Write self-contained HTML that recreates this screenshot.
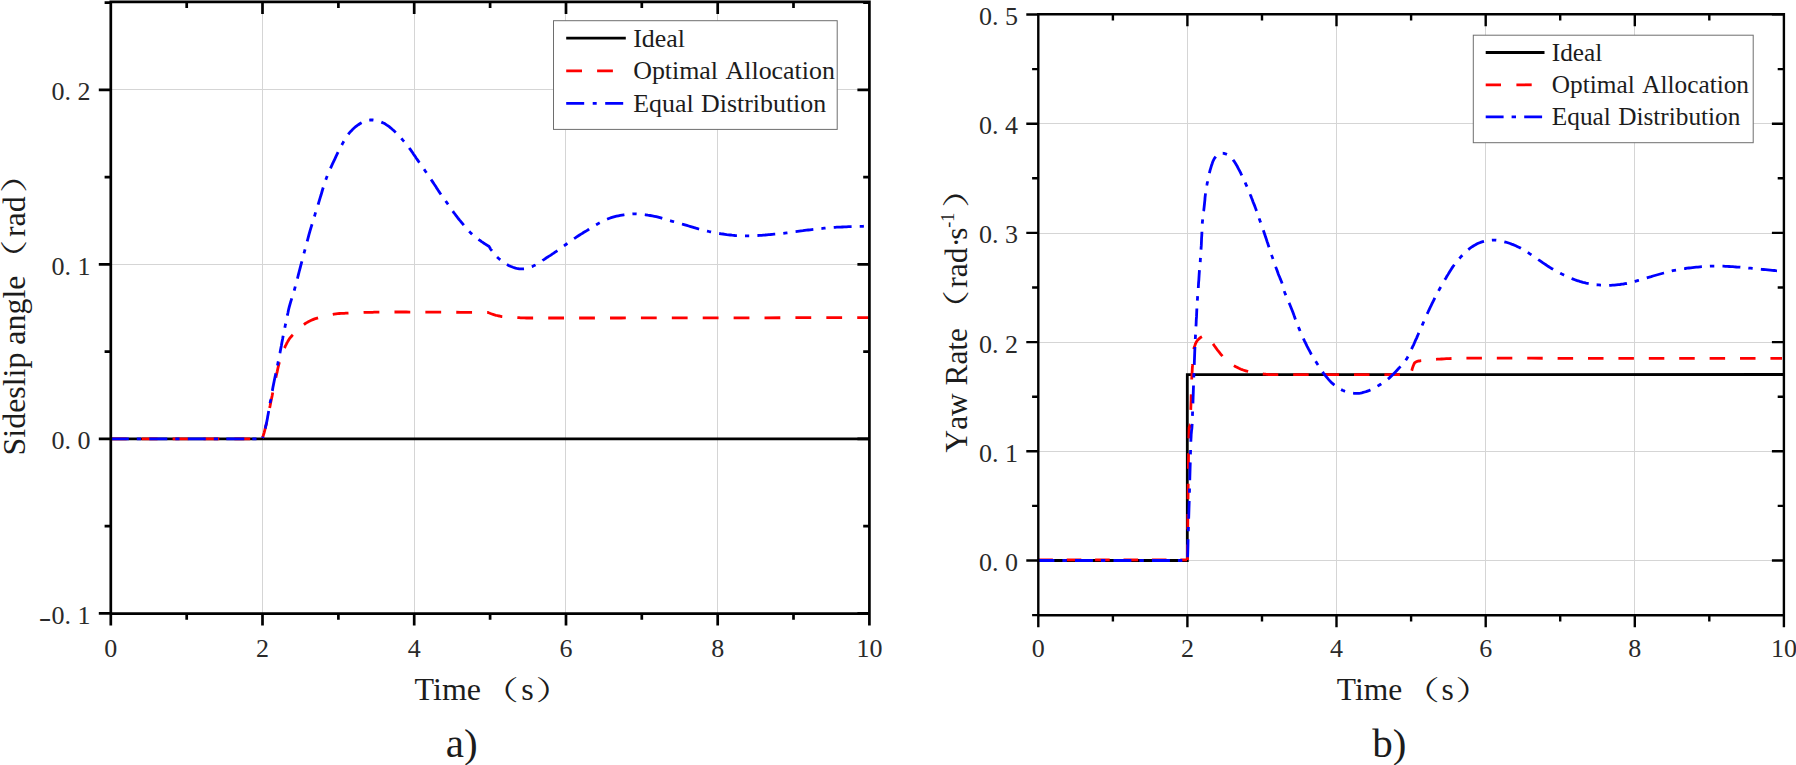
<!DOCTYPE html>
<html lang="en"><head><meta charset="utf-8"><title>Sideslip angle and yaw rate</title>
<style>html,body{margin:0;padding:0;background:#fff}body{width:1796px;height:765px;overflow:hidden}svg{display:block}text{font-family:"Liberation Serif", "Noto Serif CJK SC", serif;fill:#1c1c1c}.tk{font-size:26px;fill:#2a2a2a}.lg{font-size:25.9px}.ax{font-size:31.5px}.cap{font-size:41px}.a{stroke:#000;stroke-width:2.5;fill:none}.g{stroke:#d5d5d5;stroke-width:1;fill:none}.cb{stroke:#0000ff;stroke-width:2.8;fill:none;stroke-dasharray:18 8.5 4 8.5}.cr{stroke:#ff0000;stroke-width:2.8;fill:none;stroke-dasharray:15.8 15.1}.ck{stroke:#000;fill:none}</style></head><body>
<svg width="1796" height="765" viewBox="0 0 1796 765">
<rect width="1796" height="765" fill="#fff"/>
<path class="g" d="M262.5 1.9V613.6"/>
<path class="g" d="M414.5 1.9V613.6"/>
<path class="g" d="M565.5 1.9V613.6"/>
<path class="g" d="M717.5 1.9V613.6"/>
<path class="g" d="M110.8 89.5H869.4"/>
<path class="g" d="M110.8 264.5H869.4"/>
<path class="ck" stroke-width="2.9" d="M110.8 438.9H869.4"/>
<path class="cr" d="M110.8 438.9 L262.0 438.9"/>
<path class="cr" d="M262.6 438.0 L262.9 437.0 L263.2 435.8 L263.6 434.4 L264.1 432.8 L264.6 430.9 L265.1 428.9 L265.6 426.7 L266.2 424.4 L266.8 421.8 L267.4 418.9 L268.0 415.8 L268.7 412.5 L269.4 409.2 L270.1 405.8 L270.7 402.4 L271.4 399.2 L272.1 396.0 L272.7 392.7 L273.4 389.4 L274.1 386.1 L274.7 382.9 L275.4 379.8 L276.0 376.8 L276.6 374.1 L277.2 371.6 L277.7 369.2 L278.2 367.0 L278.7 365.0 L279.2 363.0 L279.7 361.1 L280.2 359.2 L280.8 357.4 L281.4 355.6 L282.0 353.9 L282.7 352.2 L283.3 350.6 L284.0 349.1 L284.7 347.6 L285.3 346.2 L286.0 344.9 L286.6 343.7 L287.1 342.6 L287.7 341.6 L288.2 340.7 L288.8 339.7 L289.5 338.7 L290.3 337.7 L291.3 336.5 L292.5 335.1 L293.9 333.6 L295.5 332.0 L297.1 330.4 L298.8 328.8 L300.5 327.3 L302.2 325.8 L303.8 324.6 L305.3 323.5 L306.8 322.6 L308.3 321.7 L309.8 321.0 L311.3 320.3 L312.9 319.6 L314.6 318.9 L316.4 318.3 L318.4 317.7 L320.6 317.0 L322.8 316.4 L325.2 315.9 L327.5 315.3 L329.8 314.9 L332.0 314.5 L334.1 314.1 L336.0 313.8 L337.7 313.6 L339.4 313.5 L341.0 313.4 L342.5 313.3 L344.2 313.3 L345.9 313.2 L347.7 313.1 L349.7 313.0 L351.8 312.9 L353.9 312.8 L356.1 312.7 L358.3 312.6 L360.5 312.5 L362.5 312.5 L364.5 312.4 L366.3 312.4 L367.9 312.3 L369.4 312.3 L370.9 312.3 L372.5 312.3 L374.1 312.2 L375.9 312.2 L378.0 312.2 L380.3 312.2 L382.7 312.1 L385.3 312.1 L388.0 312.1 L390.8 312.0 L393.7 312.0 L396.8 312.0 L400.0 312.0 L403.2 312.0 L406.3 312.0 L409.5 312.1 L412.8 312.1 L416.4 312.1 L420.4 312.1 L424.9 312.2 L430.0 312.2 L436.3 312.2 L443.8 312.2 L452.1 312.2 L460.6 312.3 L468.9 312.3 L476.5 312.3 L482.9 312.3 L487.5 312.3 L487.5 312.3 L487.8 312.4 L488.2 312.6 L488.7 312.8 L489.3 313.0 L489.9 313.3 L490.5 313.5 L491.2 313.8 L491.8 314.0 L492.4 314.2 L493.1 314.4 L493.8 314.7 L494.5 314.9 L495.3 315.1 L496.0 315.3 L496.8 315.5 L497.6 315.7 L498.4 315.9 L499.1 316.0 L499.9 316.2 L500.7 316.4 L501.5 316.5 L502.5 316.6 L503.5 316.8 L504.8 316.9 L506.3 317.0 L507.9 317.1 L509.7 317.3 L511.6 317.4 L513.5 317.5 L515.4 317.5 L517.4 317.6 L519.2 317.7 L520.6 317.8 L521.6 317.8 L522.3 317.9 L523.1 317.9 L524.3 317.9 L526.3 318.0 L529.2 318.0 L533.5 318.0 L539.1 318.0 L545.7 318.0 L553.1 318.0 L561.4 318.0 L570.3 318.0 L579.8 318.0 L589.7 318.0 L600.0 318.0 L610.4 318.0 L621.1 318.0 L632.1 317.9 L643.7 317.9 L656.0 317.9 L669.4 317.8 L684.0 317.8 L700.0 317.8 L718.9 317.8 L741.2 317.8 L765.4 317.8 L790.2 317.7 L814.3 317.7 L836.2 317.7 L854.6 317.7 L868.0 317.7"/>
<path class="cb" style="stroke-dasharray:18 8 4.2 8.3" d="M110.8 438.9 L262.0 438.9"/>
<path class="cb" style="stroke-dasharray:17.9 8.1 4.2 8.2;stroke-dashoffset:28.7" d="M262.6 438.0 L262.9 437.0 L263.3 435.6 L263.7 434.0 L264.2 432.3 L264.7 430.3 L265.3 428.3 L265.7 426.3 L266.2 424.4 L266.6 422.5 L267.0 420.6 L267.4 418.6 L267.7 416.6 L268.1 414.5 L268.5 412.3 L268.9 410.0 L269.3 407.6 L269.8 405.0 L270.2 402.3 L270.8 399.5 L271.3 396.6 L271.8 393.7 L272.4 390.6 L272.9 387.6 L273.5 384.6 L274.1 381.6 L274.7 378.5 L275.4 375.4 L276.0 372.3 L276.7 369.2 L277.4 366.0 L278.0 362.8 L278.7 359.5 L279.3 356.2 L280.0 352.8 L280.6 349.4 L281.3 345.9 L281.9 342.4 L282.6 339.0 L283.2 335.6 L283.9 332.3 L284.6 329.0 L285.2 325.7 L285.9 322.5 L286.5 319.2 L287.2 316.1 L287.9 313.0 L288.5 310.0 L289.2 307.2 L289.9 304.6 L290.6 302.2 L291.3 299.9 L291.9 297.7 L292.6 295.5 L293.4 293.3 L294.1 290.9 L294.8 288.4 L295.5 285.7 L296.2 283.1 L297.0 280.3 L297.7 277.5 L298.4 274.6 L299.2 271.5 L300.1 268.2 L301.0 264.7 L302.0 260.9 L303.1 256.8 L304.2 252.5 L305.4 248.1 L306.6 243.6 L307.8 239.2 L308.9 234.8 L310.1 230.7 L311.3 226.7 L312.5 222.7 L313.7 218.8 L314.9 214.9 L316.0 211.1 L317.2 207.5 L318.3 204.0 L319.3 200.7 L320.2 197.6 L321.1 194.8 L321.9 192.0 L322.6 189.5 L323.4 187.0 L324.1 184.5 L324.9 182.1 L325.8 179.7 L326.7 177.3 L327.6 174.9 L328.6 172.6 L329.6 170.4 L330.6 168.1 L331.6 165.9 L332.6 163.7 L333.7 161.4 L334.8 159.1 L335.9 156.7 L337.1 154.2 L338.2 151.8 L339.4 149.5 L340.6 147.2 L341.7 145.1 L342.8 143.1 L343.8 141.3 L344.8 139.6 L345.7 138.1 L346.7 136.6 L347.6 135.3 L348.6 133.9 L349.6 132.7 L350.7 131.4 L351.9 130.2 L353.1 128.9 L354.4 127.8 L355.7 126.7 L357.1 125.6 L358.4 124.7 L359.8 123.8 L361.1 123.0 L362.4 122.3 L363.7 121.7 L365.0 121.2 L366.3 120.7 L367.6 120.4 L368.9 120.1 L370.2 120.0 L371.6 119.9 L373.0 120.0 L374.5 120.2 L376.0 120.5 L377.5 120.9 L379.0 121.3 L380.5 121.8 L381.9 122.4 L383.3 123.0 L384.6 123.6 L385.8 124.3 L386.9 125.1 L388.1 125.9 L389.2 126.7 L390.3 127.6 L391.4 128.5 L392.5 129.5 L393.7 130.5 L394.8 131.6 L396.0 132.7 L397.1 133.9 L398.3 135.1 L399.4 136.3 L400.5 137.5 L401.6 138.7 L402.6 139.9 L403.7 141.1 L404.7 142.2 L405.6 143.4 L406.6 144.6 L407.6 145.9 L408.5 147.1 L409.5 148.4 L410.5 149.7 L411.5 151.1 L412.5 152.5 L413.4 154.0 L414.4 155.4 L415.4 156.8 L416.3 158.2 L417.3 159.6 L418.2 160.9 L419.1 162.2 L420.0 163.5 L420.9 164.7 L421.8 166.0 L422.7 167.3 L423.6 168.6 L424.6 170.0 L425.6 171.5 L426.7 173.0 L427.7 174.6 L428.8 176.2 L429.9 177.8 L431.0 179.4 L432.0 180.9 L433.0 182.4 L433.9 183.8 L434.9 185.2 L435.8 186.6 L436.6 187.9 L437.5 189.3 L438.3 190.6 L439.2 191.9 L440.1 193.2 L441.0 194.5 L441.9 195.7 L442.7 197.0 L443.6 198.2 L444.5 199.4 L445.4 200.7 L446.3 201.9 L447.3 203.3 L448.3 204.7 L449.4 206.3 L450.5 207.8 L451.6 209.4 L452.7 211.0 L453.8 212.6 L454.9 214.0 L455.9 215.4 L456.9 216.7 L457.8 217.9 L458.7 219.0 L459.6 220.1 L460.5 221.1 L461.3 222.2 L462.2 223.2 L463.1 224.3 L464.0 225.4 L464.8 226.4 L465.7 227.5 L466.5 228.5 L467.4 229.5 L468.3 230.6 L469.3 231.6 L470.3 232.6 L471.4 233.6 L472.6 234.7 L473.9 235.8 L475.2 236.8 L476.5 237.8 L477.8 238.8 L479.1 239.8 L480.3 240.7 L481.5 241.6 L482.8 242.4 L484.0 243.3 L485.3 244.1 L486.4 244.8 L487.5 245.4 L488.3 246.0 L489.0 246.4 L489.0 246.4 L489.2 246.7 L489.4 247.1 L489.7 247.5 L490.0 248.0 L490.3 248.6 L490.7 249.3 L491.2 250.0 L491.8 250.7 L492.5 251.5 L493.2 252.5 L494.1 253.5 L494.9 254.6 L495.9 255.7 L496.9 256.8 L497.9 257.8 L499.0 258.8 L500.1 259.7 L501.3 260.7 L502.6 261.6 L503.9 262.6 L505.2 263.4 L506.5 264.3 L507.8 265.0 L509.1 265.7 L510.4 266.3 L511.7 266.8 L513.0 267.3 L514.2 267.7 L515.5 268.1 L516.8 268.4 L518.0 268.6 L519.2 268.8 L520.3 268.9 L521.5 268.9 L522.5 268.9 L523.6 268.8 L524.6 268.7 L525.7 268.5 L526.7 268.3 L527.8 268.0 L528.9 267.7 L529.9 267.4 L531.0 267.0 L532.1 266.6 L533.2 266.1 L534.2 265.6 L535.3 265.1 L536.4 264.5 L537.5 263.9 L538.5 263.3 L539.6 262.6 L540.6 261.8 L541.7 261.1 L542.7 260.3 L543.9 259.6 L545.0 258.8 L546.2 258.0 L547.4 257.2 L548.7 256.4 L550.0 255.6 L551.2 254.8 L552.5 253.9 L553.8 253.1 L555.1 252.2 L556.4 251.3 L557.6 250.5 L558.8 249.6 L560.1 248.7 L561.3 247.8 L562.6 246.9 L563.9 245.9 L565.2 245.0 L566.6 244.0 L568.0 243.0 L569.4 242.0 L570.9 240.9 L572.3 239.9 L573.8 238.9 L575.3 237.9 L576.7 236.9 L578.1 236.0 L579.6 235.0 L581.0 234.1 L582.5 233.2 L583.9 232.3 L585.3 231.5 L586.8 230.6 L588.2 229.7 L589.6 228.8 L591.1 227.9 L592.5 227.0 L594.0 226.1 L595.4 225.2 L596.8 224.4 L598.3 223.6 L599.7 222.8 L601.1 222.1 L602.5 221.4 L603.9 220.7 L605.3 220.0 L606.7 219.4 L608.1 218.8 L609.6 218.2 L611.2 217.7 L612.9 217.2 L614.7 216.7 L616.5 216.2 L618.4 215.8 L620.3 215.4 L622.1 215.1 L623.9 214.8 L625.6 214.5 L627.1 214.3 L628.5 214.1 L629.9 214.0 L631.2 213.9 L632.5 213.8 L633.9 213.8 L635.4 213.8 L637.1 213.9 L639.0 214.0 L641.1 214.3 L643.3 214.5 L645.6 214.8 L647.9 215.2 L650.1 215.5 L652.3 215.9 L654.4 216.3 L656.3 216.7 L658.2 217.2 L660.0 217.7 L661.8 218.2 L663.5 218.7 L665.3 219.3 L667.0 219.8 L668.8 220.3 L670.6 220.8 L672.4 221.3 L674.2 221.8 L675.9 222.3 L677.7 222.8 L679.5 223.3 L681.3 223.8 L683.1 224.3 L684.9 224.8 L686.8 225.4 L688.7 226.0 L690.7 226.6 L692.5 227.1 L694.3 227.7 L696.0 228.2 L697.5 228.6 L698.8 229.0 L700.0 229.3 L701.1 229.6 L702.0 229.9 L703.0 230.1 L704.0 230.4 L705.0 230.6 L706.2 230.9 L707.5 231.2 L708.8 231.5 L710.2 231.8 L711.6 232.1 L713.1 232.4 L714.6 232.6 L716.1 232.9 L717.7 233.2 L719.4 233.5 L721.1 233.8 L723.0 234.0 L724.9 234.3 L726.7 234.6 L728.6 234.8 L730.3 235.0 L732.0 235.2 L733.6 235.3 L735.0 235.5 L736.4 235.6 L737.7 235.6 L739.1 235.7 L740.5 235.7 L741.9 235.8 L743.5 235.8 L745.2 235.8 L746.9 235.8 L748.7 235.8 L750.5 235.8 L752.4 235.7 L754.2 235.7 L756.1 235.6 L757.9 235.5 L759.7 235.4 L761.5 235.3 L763.3 235.1 L765.1 235.0 L766.9 234.8 L768.7 234.6 L770.5 234.5 L772.3 234.3 L774.1 234.1 L775.9 234.0 L777.7 233.8 L779.5 233.7 L781.3 233.5 L783.1 233.3 L784.9 233.1 L786.7 232.9 L788.5 232.7 L790.3 232.4 L792.1 232.2 L793.9 231.9 L795.7 231.7 L797.5 231.4 L799.3 231.1 L801.1 230.9 L802.9 230.7 L804.7 230.4 L806.5 230.2 L808.2 230.0 L810.0 229.8 L811.8 229.6 L813.6 229.4 L815.4 229.2 L817.2 229.0 L819.0 228.8 L820.8 228.6 L822.6 228.4 L824.4 228.2 L826.2 228.0 L828.0 227.9 L829.8 227.7 L831.6 227.6 L833.3 227.4 L835.1 227.3 L836.8 227.2 L838.6 227.2 L840.4 227.1 L842.3 227.0 L844.2 226.9 L846.3 226.8 L848.6 226.7 L850.9 226.6 L853.3 226.6 L855.7 226.5 L857.9 226.4 L859.8 226.4 L861.5 226.3 L862.9 226.3 L864.0 226.2 L865.0 226.2 L865.8 226.2 L866.5 226.1 L867.1 226.1 L867.6 226.1 L868.0 226.1"/>
<path class="a" style="stroke-width:2.7" d="M110.8 1.9H869.4V613.6H110.8ZM110.8 1.9v12.0M110.8 613.6v12.0M186.7 1.9v6.2M186.7 613.6v6.2M262.5 1.9v12.0M262.5 613.6v12.0M338.4 1.9v6.2M338.4 613.6v6.2M414.2 1.9v12.0M414.2 613.6v12.0M490.1 1.9v6.2M490.1 613.6v6.2M566.0 1.9v12.0M566.0 613.6v12.0M641.8 1.9v6.2M641.8 613.6v6.2M717.7 1.9v12.0M717.7 613.6v12.0M793.5 1.9v6.2M793.5 613.6v6.2M869.4 1.9v12.0M869.4 613.6v12.0M110.8 89.9h-12.0M869.4 89.9h-12.0M110.8 264.4h-12.0M869.4 264.4h-12.0M110.8 438.9h-12.0M869.4 438.9h-12.0M110.8 613.4h-12.0M869.4 613.4h-12.0M110.8 2.6h-6.2M869.4 2.6h-6.2M110.8 177.1h-6.2M869.4 177.1h-6.2M110.8 351.6h-6.2M869.4 351.6h-6.2M110.8 526.1h-6.2M869.4 526.1h-6.2"/>
<text class="tk" x="90.4" y="100.1" text-anchor="end">0.<tspan dx="6.5">2</tspan></text>
<text class="tk" x="90.4" y="274.6" text-anchor="end">0.<tspan dx="6.5">1</tspan></text>
<text class="tk" x="90.4" y="449.1" text-anchor="end">0.<tspan dx="6.5">0</tspan></text>
<text class="tk" x="90.4" y="623.6" text-anchor="end"><tspan dy="2" textLength="12.6" lengthAdjust="spacingAndGlyphs">-</tspan><tspan dy="-2">0.</tspan><tspan dx="6.5">1</tspan></text>
<text class="tk" x="110.8" y="656.6" text-anchor="middle">0</text>
<text class="tk" x="262.5" y="656.6" text-anchor="middle">2</text>
<text class="tk" x="414.2" y="656.6" text-anchor="middle">4</text>
<text class="tk" x="566.0" y="656.6" text-anchor="middle">6</text>
<text class="tk" x="717.7" y="656.6" text-anchor="middle">8</text>
<text class="tk" x="869.4" y="656.6" text-anchor="middle">10</text>
<rect x="553.5" y="20.7" width="283.7" height="108.7" fill="#fff" stroke="#6e6e6e" stroke-width="1"/>
<path class="ck" stroke-width="2.6" d="M566.2 38.1H625.8"/>
<path class="cr" d="M566.2 70.9H625.8"/>
<path class="cb" d="M566.2 103.4H625.8"/>
<text class="lg" x="633.2" y="46.8">Ideal</text>
<text class="lg" x="633.2" y="79" style="word-spacing:2.5px">Optimal Allocation</text>
<text class="lg" x="633.2" y="111.5" style="word-spacing:1px">Equal Distribution</text>
<text class="ax" x="414.6" y="699.6" style="font-size:32px">Time <tspan x="480.9" y="700.1" style="font-size:27.0px" textLength="37.8" lengthAdjust="spacingAndGlyphs">（</tspan><tspan x="521.3" y="699.6">s</tspan><tspan x="535.5" y="700.1" style="font-size:27.0px" textLength="37.8" lengthAdjust="spacingAndGlyphs">）</tspan></text>
<text class="cap" x="445.8" y="757">a)</text>
<g transform="translate(24.8 455.4) rotate(-90)"><text class="ax" x="0" y="0" style="font-size:31.9px">Sideslip angle <tspan x="177.9" y="-1.0" style="font-size:27.0px" textLength="37.8" lengthAdjust="spacingAndGlyphs">（</tspan><tspan x="218.3" y="0" style="font-size:32px">rad</tspan><tspan x="262.5" y="-1.0" style="font-size:27.0px" textLength="37.8" lengthAdjust="spacingAndGlyphs">）</tspan></text></g>
<path class="g" d="M1187.5 14.2V615.3"/>
<path class="g" d="M1336.5 14.2V615.3"/>
<path class="g" d="M1485.5 14.2V615.3"/>
<path class="g" d="M1634.5 14.2V615.3"/>
<path class="g" d="M1038.3 123.5H1783.9"/>
<path class="g" d="M1038.3 233.5H1783.9"/>
<path class="g" d="M1038.3 342.5H1783.9"/>
<path class="g" d="M1038.3 451.5H1783.9"/>
<path class="g" d="M1038.3 560.5H1783.9"/>
<path class="ck" stroke-width="2.8" stroke-linejoin="miter" d="M1038.3 560.5 L1187.3 560.5 L1187.3 374.7 L1783.9 374.5"/>
<path class="cr" style="stroke-dasharray:14.6 13.8" d="M1038.3 559.9 L1187.0 559.9"/>
<path class="cr" style="stroke-dasharray:15.5 14.9;stroke-dashoffset:0" d="M1187.4 560.0 L1187.5 550.0 L1187.7 535.9 L1187.8 519.1 L1188.0 500.8 L1188.2 482.5 L1188.4 465.3 L1188.6 450.7 L1188.8 440.0 L1189.0 433.3 L1189.1 429.3 L1189.2 427.4 L1189.4 427.0 L1189.5 427.4 L1189.6 427.8 L1189.8 427.7 L1189.9 426.4 L1190.0 424.1 L1190.2 421.7 L1190.3 419.1 L1190.4 416.4 L1190.6 413.7 L1190.7 410.9 L1190.8 408.2 L1190.9 405.5 L1191.0 402.9 L1191.1 400.3 L1191.1 397.7 L1191.2 395.1 L1191.3 392.4 L1191.3 389.8 L1191.4 387.2 L1191.5 384.6 L1191.6 381.9 L1191.7 379.2 L1191.9 376.4 L1192.0 373.6 L1192.2 370.9 L1192.3 368.3 L1192.5 365.9 L1192.6 363.7 L1192.7 361.7 L1192.8 359.8 L1192.9 358.1 L1193.0 356.5 L1193.0 355.0 L1193.1 353.6 L1193.3 352.3 L1193.4 351.1 L1193.6 350.0 L1193.8 349.1 L1194.0 348.2 L1194.2 347.5 L1194.4 346.8 L1194.6 346.2 L1194.9 345.5 L1195.1 344.9 L1195.3 344.3 L1195.5 343.7 L1195.8 343.2 L1196.0 342.6 L1196.2 342.2 L1196.5 341.7 L1196.8 341.2 L1197.2 340.7 L1197.6 340.2 L1198.1 339.7 L1198.6 339.2 L1199.2 338.7 L1199.8 338.2 L1200.3 337.7 L1200.9 337.3 L1201.4 337.0 L1201.9 336.7 L1202.3 336.5 L1202.8 336.3 L1203.2 336.2 L1203.7 336.1 L1204.1 336.0 L1204.6 336.0 L1205.0 336.0 L1205.4 336.0 L1205.9 336.1 L1206.3 336.2 L1206.7 336.3 L1207.1 336.5 L1207.6 336.8 L1208.0 337.2 L1208.5 337.6 L1209.0 338.1 L1209.5 338.8 L1210.0 339.5 L1210.5 340.3 L1211.1 341.1 L1211.6 342.0 L1212.3 342.9 L1212.9 343.8 L1213.6 344.7 L1214.3 345.7 L1215.1 346.8 L1215.9 347.9 L1216.7 349.0 L1217.5 350.1 L1218.4 351.1 L1219.2 352.2 L1220.1 353.3 L1220.9 354.3 L1221.8 355.4 L1222.7 356.5 L1223.6 357.6 L1224.6 358.6 L1225.5 359.6 L1226.5 360.5 L1227.5 361.3 L1228.5 362.2 L1229.6 362.9 L1230.6 363.6 L1231.7 364.3 L1232.8 365.0 L1233.8 365.6 L1234.9 366.2 L1235.9 366.8 L1236.9 367.3 L1237.9 367.8 L1238.9 368.3 L1239.9 368.7 L1241.0 369.2 L1242.1 369.6 L1243.2 370.0 L1244.4 370.4 L1245.7 370.8 L1247.0 371.2 L1248.3 371.5 L1249.7 371.8 L1251.0 372.1 L1252.4 372.4 L1253.7 372.7 L1255.0 372.9 L1256.3 373.2 L1257.6 373.4 L1258.9 373.5 L1260.2 373.7 L1261.5 373.8 L1262.8 374.0 L1264.1 374.1 L1265.3 374.2 L1266.4 374.3 L1267.4 374.4 L1268.4 374.5 L1269.6 374.6 L1270.9 374.6 L1272.6 374.7 L1274.6 374.7 L1276.5 374.7 L1277.9 374.7 L1279.3 374.7 L1281.0 374.7 L1283.6 374.7 L1287.3 374.7 L1292.6 374.7 L1300.0 374.7 L1310.5 374.7 L1324.3 374.7 L1340.1 374.7 L1356.9 374.7 L1373.5 374.7 L1388.8 374.7 L1401.6 374.7 L1410.7 374.7 L1410.7 374.7 L1410.9 373.9 L1411.2 372.9 L1411.5 371.6 L1411.9 370.2 L1412.3 368.7 L1412.7 367.4 L1413.1 366.2 L1413.5 365.2 L1413.8 364.5 L1414.1 363.9 L1414.3 363.4 L1414.6 362.9 L1414.9 362.6 L1415.3 362.3 L1415.8 362.0 L1416.4 361.7 L1417.2 361.4 L1418.0 361.2 L1419.0 361.0 L1420.0 360.9 L1421.1 360.7 L1422.3 360.6 L1423.6 360.5 L1425.0 360.3 L1426.5 360.1 L1428.1 360.0 L1429.7 359.8 L1431.5 359.7 L1433.3 359.5 L1435.3 359.4 L1437.3 359.2 L1439.4 359.1 L1441.6 359.0 L1444.0 358.9 L1446.4 358.7 L1449.0 358.6 L1451.6 358.5 L1454.2 358.4 L1456.9 358.4 L1459.6 358.3 L1461.7 358.3 L1462.9 358.2 L1463.9 358.2 L1465.0 358.2 L1466.9 358.2 L1470.1 358.2 L1475.2 358.2 L1482.6 358.2 L1492.3 358.2 L1503.8 358.2 L1516.9 358.2 L1531.4 358.2 L1547.1 358.3 L1563.9 358.3 L1581.6 358.3 L1600.0 358.3 L1620.9 358.3 L1645.2 358.3 L1671.5 358.3 L1698.3 358.3 L1724.2 358.3 L1747.8 358.3 L1767.5 358.3 L1782.0 358.3"/>
<path class="cb" style="stroke-dasharray:17.9 8 4.4 8.2;stroke-dashoffset:1.8" d="M1038.3 560.5 L1187.0 560.5 L1187.5 560.0 L1187.7 554.5 L1187.9 547.0 L1188.1 538.0 L1188.4 528.1 L1188.7 517.9 L1189.0 507.7 L1189.3 498.3 L1189.5 490.0 L1189.7 482.5 L1189.9 475.2 L1190.1 468.2 L1190.3 461.5 L1190.4 455.2 L1190.6 449.5 L1190.7 444.4 L1190.9 440.0 L1191.1 436.6 L1191.2 434.1 L1191.4 432.3 L1191.5 431.0 L1191.6 430.0 L1191.8 429.0 L1191.9 427.9 L1192.0 426.4 L1192.1 424.7 L1192.2 423.0 L1192.3 421.4 L1192.3 419.7 L1192.4 417.9 L1192.4 416.1 L1192.5 414.0 L1192.6 411.8 L1192.7 409.3 L1192.8 406.7 L1192.9 403.9 L1193.0 401.0 L1193.1 397.9 L1193.2 394.9 L1193.3 391.8 L1193.4 388.8 L1193.5 385.7 L1193.6 382.6 L1193.7 379.4 L1193.8 376.1 L1194.0 372.9 L1194.1 369.7 L1194.2 366.7 L1194.3 363.7 L1194.4 360.9 L1194.5 358.2 L1194.6 355.6 L1194.7 353.0 L1194.8 350.5 L1194.9 347.9 L1195.0 345.4 L1195.1 342.8 L1195.2 340.2 L1195.4 337.5 L1195.5 334.8 L1195.6 332.2 L1195.8 329.5 L1195.9 326.9 L1196.1 324.3 L1196.2 321.8 L1196.3 319.3 L1196.5 316.9 L1196.6 314.5 L1196.7 312.2 L1196.8 309.8 L1196.9 307.5 L1197.1 305.2 L1197.2 303.0 L1197.3 300.8 L1197.5 298.5 L1197.6 296.3 L1197.8 294.2 L1198.0 292.1 L1198.1 290.0 L1198.3 288.0 L1198.4 286.0 L1198.5 284.1 L1198.6 282.3 L1198.8 280.5 L1198.9 278.8 L1199.0 277.1 L1199.1 275.5 L1199.2 273.9 L1199.3 272.3 L1199.4 270.8 L1199.5 269.4 L1199.7 268.1 L1199.8 266.8 L1199.9 265.5 L1200.0 264.1 L1200.2 262.5 L1200.3 260.8 L1200.4 258.9 L1200.6 256.9 L1200.7 254.7 L1200.9 252.5 L1201.0 250.2 L1201.1 247.8 L1201.3 245.4 L1201.4 243.0 L1201.5 240.5 L1201.6 237.8 L1201.8 235.1 L1201.9 232.4 L1202.0 229.6 L1202.1 227.0 L1202.2 224.4 L1202.4 222.1 L1202.6 220.0 L1202.8 218.0 L1203.0 216.1 L1203.2 214.4 L1203.4 212.6 L1203.7 210.9 L1203.9 209.2 L1204.1 207.4 L1204.3 205.5 L1204.5 203.6 L1204.7 201.7 L1204.9 199.8 L1205.0 197.9 L1205.2 196.1 L1205.4 194.4 L1205.6 192.8 L1205.8 191.4 L1206.0 190.1 L1206.2 189.0 L1206.3 187.9 L1206.5 186.8 L1206.7 185.7 L1207.0 184.5 L1207.2 183.3 L1207.5 182.0 L1207.7 180.6 L1208.0 179.2 L1208.3 177.7 L1208.6 176.3 L1208.9 174.8 L1209.3 173.3 L1209.7 171.8 L1210.1 170.2 L1210.6 168.6 L1211.1 166.9 L1211.6 165.2 L1212.2 163.5 L1212.7 161.9 L1213.3 160.5 L1213.9 159.3 L1214.5 158.3 L1215.2 157.4 L1215.8 156.6 L1216.5 156.0 L1217.2 155.4 L1217.9 154.9 L1218.6 154.5 L1219.2 154.1 L1219.8 153.8 L1220.4 153.5 L1221.0 153.4 L1221.6 153.2 L1222.2 153.2 L1222.8 153.2 L1223.4 153.3 L1224.0 153.4 L1224.7 153.6 L1225.4 153.8 L1226.1 154.0 L1226.8 154.4 L1227.5 154.7 L1228.2 155.2 L1228.9 155.7 L1229.6 156.2 L1230.3 156.8 L1230.9 157.4 L1231.6 158.0 L1232.2 158.8 L1232.9 159.5 L1233.5 160.4 L1234.2 161.3 L1234.9 162.4 L1235.6 163.6 L1236.4 164.9 L1237.2 166.3 L1238.0 167.8 L1238.8 169.4 L1239.6 170.9 L1240.4 172.4 L1241.1 173.9 L1241.8 175.3 L1242.5 176.7 L1243.2 178.2 L1243.8 179.6 L1244.5 181.0 L1245.1 182.4 L1245.7 183.9 L1246.4 185.4 L1247.1 186.9 L1247.7 188.4 L1248.4 190.0 L1249.0 191.6 L1249.7 193.2 L1250.3 194.8 L1251.0 196.4 L1251.6 198.0 L1252.3 199.7 L1252.9 201.4 L1253.6 203.2 L1254.3 204.9 L1255.0 206.7 L1255.6 208.4 L1256.2 210.0 L1256.8 211.6 L1257.3 213.1 L1257.8 214.4 L1258.3 215.8 L1258.7 217.1 L1259.1 218.3 L1259.5 219.6 L1260.0 220.8 L1260.4 222.1 L1260.9 223.4 L1261.3 224.7 L1261.8 225.9 L1262.2 227.2 L1262.7 228.4 L1263.1 229.7 L1263.6 231.1 L1264.1 232.5 L1264.6 234.0 L1265.1 235.5 L1265.6 237.1 L1266.2 238.7 L1266.7 240.3 L1267.2 241.9 L1267.8 243.5 L1268.3 245.1 L1268.8 246.7 L1269.3 248.2 L1269.8 249.7 L1270.3 251.2 L1270.9 252.8 L1271.4 254.3 L1271.9 255.9 L1272.5 257.6 L1273.1 259.3 L1273.7 261.2 L1274.4 263.0 L1275.1 265.0 L1275.7 266.9 L1276.4 268.7 L1277.1 270.6 L1277.7 272.3 L1278.3 274.0 L1279.0 275.7 L1279.7 277.3 L1280.3 278.9 L1281.0 280.5 L1281.6 282.0 L1282.1 283.4 L1282.6 284.8 L1283.0 286.0 L1283.3 287.1 L1283.6 288.1 L1283.8 289.1 L1284.0 290.0 L1284.3 291.1 L1284.6 292.2 L1285.1 293.6 L1285.7 295.1 L1286.4 296.8 L1287.1 298.6 L1288.0 300.4 L1288.8 302.3 L1289.7 304.3 L1290.5 306.2 L1291.3 308.2 L1292.1 310.2 L1292.9 312.3 L1293.7 314.4 L1294.4 316.6 L1295.2 318.8 L1296.0 320.9 L1296.8 323.0 L1297.6 325.0 L1298.4 326.9 L1299.2 328.9 L1300.0 330.7 L1300.8 332.6 L1301.5 334.4 L1302.3 336.1 L1303.1 337.9 L1303.9 339.6 L1304.7 341.3 L1305.5 342.9 L1306.2 344.5 L1307.0 346.1 L1307.8 347.6 L1308.6 349.2 L1309.4 350.7 L1310.2 352.2 L1311.0 353.7 L1311.9 355.2 L1312.8 356.6 L1313.6 358.1 L1314.5 359.5 L1315.4 360.9 L1316.3 362.3 L1317.2 363.7 L1318.1 365.1 L1319.0 366.5 L1319.8 367.8 L1320.7 369.2 L1321.6 370.5 L1322.5 371.8 L1323.4 373.1 L1324.4 374.4 L1325.4 375.7 L1326.4 376.9 L1327.5 378.2 L1328.5 379.4 L1329.6 380.6 L1330.7 381.8 L1331.8 382.9 L1333.0 383.9 L1334.2 384.9 L1335.4 385.8 L1336.6 386.8 L1337.8 387.6 L1339.0 388.4 L1340.3 389.2 L1341.7 389.9 L1343.1 390.5 L1344.6 391.1 L1346.2 391.6 L1347.8 392.1 L1349.5 392.5 L1351.1 392.9 L1352.8 393.1 L1354.4 393.3 L1356.0 393.4 L1357.5 393.4 L1359.0 393.3 L1360.4 393.1 L1361.8 392.8 L1363.2 392.4 L1364.7 392.0 L1366.1 391.6 L1367.5 391.1 L1368.9 390.6 L1370.4 389.9 L1371.9 389.2 L1373.3 388.5 L1374.8 387.7 L1376.2 386.9 L1377.6 386.1 L1379.0 385.3 L1380.3 384.5 L1381.7 383.6 L1383.0 382.8 L1384.2 381.9 L1385.5 381.0 L1386.7 380.0 L1387.9 379.1 L1389.1 378.1 L1390.2 377.1 L1391.4 376.1 L1392.4 375.0 L1393.5 374.0 L1394.5 372.9 L1395.6 371.8 L1396.6 370.7 L1397.7 369.5 L1398.8 368.3 L1399.9 367.1 L1401.0 365.9 L1402.2 364.6 L1403.3 363.4 L1404.3 362.1 L1405.4 360.7 L1406.3 359.4 L1407.2 358.0 L1407.9 356.7 L1408.7 355.3 L1409.4 353.8 L1410.0 352.4 L1410.7 350.9 L1411.4 349.4 L1412.1 347.9 L1412.8 346.4 L1413.6 344.8 L1414.3 343.2 L1415.0 341.5 L1415.7 339.9 L1416.5 338.3 L1417.2 336.6 L1417.9 335.0 L1418.6 333.4 L1419.3 331.8 L1420.0 330.1 L1420.8 328.5 L1421.5 326.9 L1422.2 325.2 L1422.9 323.6 L1423.6 322.0 L1424.3 320.4 L1425.0 318.8 L1425.7 317.2 L1426.4 315.6 L1427.1 314.0 L1427.9 312.4 L1428.6 310.8 L1429.4 309.1 L1430.2 307.4 L1431.1 305.6 L1432.0 303.7 L1432.9 301.9 L1433.8 300.1 L1434.7 298.2 L1435.6 296.4 L1436.5 294.7 L1437.4 293.0 L1438.3 291.4 L1439.1 289.8 L1440.0 288.2 L1440.9 286.7 L1441.8 285.1 L1442.7 283.5 L1443.7 281.8 L1444.7 280.0 L1445.8 278.2 L1446.9 276.3 L1448.1 274.4 L1449.2 272.5 L1450.3 270.7 L1451.4 269.0 L1452.4 267.4 L1453.4 266.0 L1454.3 264.7 L1455.1 263.5 L1456.0 262.4 L1456.9 261.4 L1457.7 260.3 L1458.6 259.3 L1459.6 258.2 L1460.6 257.1 L1461.6 256.0 L1462.6 254.9 L1463.6 253.8 L1464.7 252.7 L1465.8 251.6 L1467.0 250.6 L1468.2 249.6 L1469.5 248.6 L1470.8 247.7 L1472.2 246.7 L1473.7 245.8 L1475.2 244.9 L1476.7 244.1 L1478.2 243.3 L1479.7 242.7 L1481.2 242.1 L1482.8 241.6 L1484.4 241.2 L1486.1 240.8 L1487.7 240.5 L1489.3 240.3 L1491.0 240.2 L1492.6 240.1 L1494.2 240.1 L1495.9 240.2 L1497.5 240.4 L1499.2 240.7 L1500.8 241.0 L1502.5 241.3 L1504.0 241.7 L1505.6 242.1 L1507.1 242.5 L1508.6 243.0 L1510.1 243.5 L1511.6 244.1 L1513.1 244.6 L1514.5 245.2 L1515.8 245.8 L1517.1 246.4 L1518.3 247.0 L1519.4 247.5 L1520.4 248.0 L1521.4 248.6 L1522.5 249.2 L1523.5 249.8 L1524.6 250.5 L1525.8 251.2 L1527.1 252.0 L1528.5 252.9 L1529.9 253.9 L1531.4 254.9 L1532.9 255.9 L1534.4 256.9 L1535.8 257.9 L1537.3 258.9 L1538.7 259.9 L1540.2 260.9 L1541.6 261.9 L1543.0 262.9 L1544.5 263.9 L1545.9 264.8 L1547.4 265.8 L1548.8 266.7 L1550.2 267.6 L1551.6 268.5 L1553.1 269.3 L1554.5 270.1 L1555.9 270.9 L1557.3 271.7 L1558.8 272.5 L1560.3 273.3 L1561.8 274.1 L1563.4 274.8 L1565.0 275.6 L1566.7 276.4 L1568.3 277.1 L1569.9 277.8 L1571.6 278.5 L1573.2 279.1 L1574.8 279.7 L1576.5 280.3 L1578.1 280.8 L1579.7 281.4 L1581.4 281.8 L1583.0 282.3 L1584.6 282.7 L1586.1 283.1 L1587.6 283.4 L1589.1 283.7 L1590.5 284.0 L1591.9 284.2 L1593.3 284.3 L1594.8 284.5 L1596.2 284.7 L1597.6 284.8 L1599.0 284.9 L1600.4 285.1 L1601.8 285.2 L1603.2 285.3 L1604.6 285.4 L1606.0 285.4 L1607.5 285.4 L1609.1 285.4 L1610.8 285.3 L1612.6 285.2 L1614.4 285.1 L1616.3 284.9 L1618.2 284.7 L1620.0 284.5 L1621.8 284.2 L1623.5 284.0 L1625.1 283.7 L1626.5 283.5 L1627.9 283.2 L1629.2 282.9 L1630.6 282.6 L1632.0 282.2 L1633.4 281.8 L1635.0 281.4 L1636.7 280.9 L1638.4 280.4 L1640.2 279.9 L1642.0 279.3 L1643.9 278.8 L1645.7 278.2 L1647.6 277.6 L1649.4 277.1 L1651.2 276.6 L1653.0 276.0 L1654.8 275.5 L1656.6 275.0 L1658.4 274.5 L1660.2 274.0 L1662.0 273.5 L1663.8 273.0 L1665.6 272.5 L1667.4 272.1 L1669.2 271.6 L1671.0 271.2 L1672.7 270.7 L1674.5 270.3 L1676.3 270.0 L1678.1 269.6 L1679.9 269.3 L1681.7 269.0 L1683.5 268.7 L1685.3 268.5 L1687.1 268.2 L1688.9 268.0 L1690.7 267.8 L1692.5 267.6 L1694.3 267.4 L1696.2 267.2 L1698.0 267.1 L1699.9 266.9 L1701.7 266.7 L1703.5 266.6 L1705.2 266.5 L1706.9 266.4 L1708.5 266.3 L1709.9 266.2 L1711.3 266.2 L1712.7 266.1 L1714.0 266.1 L1715.4 266.1 L1716.8 266.1 L1718.4 266.1 L1720.1 266.1 L1721.8 266.2 L1723.6 266.2 L1725.4 266.3 L1727.3 266.4 L1729.1 266.5 L1731.0 266.6 L1732.8 266.7 L1734.6 266.8 L1736.4 267.0 L1738.2 267.1 L1740.0 267.2 L1741.7 267.4 L1743.5 267.6 L1745.3 267.7 L1747.1 267.9 L1748.9 268.1 L1750.7 268.2 L1752.4 268.4 L1754.2 268.6 L1756.0 268.8 L1757.8 268.9 L1759.6 269.1 L1761.5 269.3 L1763.5 269.5 L1765.7 269.7 L1767.9 269.9 L1770.2 270.1 L1772.3 270.3 L1774.2 270.5 L1775.8 270.7 L1777.0 270.8"/>
<path class="a" style="stroke-width:2.4" d="M1038.3 14.2H1783.9V615.3H1038.3ZM1038.3 14.2v12.0M1038.3 615.3v12.0M1112.9 14.2v6.2M1112.9 615.3v6.2M1187.4 14.2v12.0M1187.4 615.3v12.0M1262.0 14.2v6.2M1262.0 615.3v6.2M1336.5 14.2v12.0M1336.5 615.3v12.0M1411.1 14.2v6.2M1411.1 615.3v6.2M1485.7 14.2v12.0M1485.7 615.3v12.0M1560.2 14.2v6.2M1560.2 615.3v6.2M1634.8 14.2v12.0M1634.8 615.3v12.0M1709.3 14.2v6.2M1709.3 615.3v6.2M1783.9 14.2v12.0M1783.9 615.3v12.0M1038.3 14.5h-12.0M1783.9 14.5h-12.0M1038.3 123.7h-12.0M1783.9 123.7h-12.0M1038.3 232.9h-12.0M1783.9 232.9h-12.0M1038.3 342.1h-12.0M1783.9 342.1h-12.0M1038.3 451.3h-12.0M1783.9 451.3h-12.0M1038.3 560.5h-12.0M1783.9 560.5h-12.0M1038.3 69.1h-6.2M1783.9 69.1h-6.2M1038.3 178.3h-6.2M1783.9 178.3h-6.2M1038.3 287.5h-6.2M1783.9 287.5h-6.2M1038.3 396.7h-6.2M1783.9 396.7h-6.2M1038.3 505.9h-6.2M1783.9 505.9h-6.2M1038.3 615.1h-6.2M1783.9 615.1h-6.2"/>
<text class="tk" x="1018.0" y="24.9" text-anchor="end">0.<tspan dx="6.5">5</tspan></text>
<text class="tk" x="1018.0" y="134.1" text-anchor="end">0.<tspan dx="6.5">4</tspan></text>
<text class="tk" x="1018.0" y="243.3" text-anchor="end">0.<tspan dx="6.5">3</tspan></text>
<text class="tk" x="1018.0" y="352.5" text-anchor="end">0.<tspan dx="6.5">2</tspan></text>
<text class="tk" x="1018.0" y="461.7" text-anchor="end">0.<tspan dx="6.5">1</tspan></text>
<text class="tk" x="1018.0" y="570.9" text-anchor="end">0.<tspan dx="6.5">0</tspan></text>
<text class="tk" x="1038.3" y="657.2" text-anchor="middle">0</text>
<text class="tk" x="1187.4" y="657.2" text-anchor="middle">2</text>
<text class="tk" x="1336.5" y="657.2" text-anchor="middle">4</text>
<text class="tk" x="1485.7" y="657.2" text-anchor="middle">6</text>
<text class="tk" x="1634.8" y="657.2" text-anchor="middle">8</text>
<text class="tk" x="1783.9" y="657.2" text-anchor="middle">10</text>
<rect x="1473.3" y="35.2" width="279.9" height="107.5" fill="#fff" stroke="#6e6e6e" stroke-width="1"/>
<path class="ck" stroke-width="3.2" d="M1485.7 52.5H1544.5"/>
<path class="cr" style="stroke-dasharray:15.3 15.4" d="M1485.7 84.8H1544.5"/>
<path class="cb" style="stroke-dasharray:17.9 8 4.4 8.2" d="M1485.7 116.9H1544.5"/>
<text class="lg" x="1551.8" y="60.8" style="font-size:25.3px">Ideal</text>
<text class="lg" x="1551.8" y="93" style="font-size:25.3px;word-spacing:2.6px">Optimal Allocation</text>
<text class="lg" x="1551.8" y="125" style="font-size:25.3px;word-spacing:1px">Equal Distribution</text>
<text class="ax" x="1336.8" y="699.6">Time <tspan x="1401.9" y="700.1" style="font-size:27.0px" textLength="37.8" lengthAdjust="spacingAndGlyphs">（</tspan><tspan x="1441.5" y="699.6">s</tspan><tspan x="1455.3" y="700.1" style="font-size:27.0px" textLength="37.8" lengthAdjust="spacingAndGlyphs">）</tspan></text>
<text class="cap" x="1372.2" y="757">b)</text>
<g transform="translate(967.3 452.4) rotate(-90)"><text class="ax" x="0" y="0"><tspan style="font-size:31.3px;font-kerning:none">Yaw Rate </tspan><tspan x="124.7" y="-1.0" style="font-size:27.0px" textLength="37.8" lengthAdjust="spacingAndGlyphs">（</tspan><tspan x="164.6" y="0">rad·</tspan><tspan dx="-2.6">s</tspan><tspan dy="-13" dx="-0.4" style="font-size:18px">-1</tspan><tspan x="244.6" y="-1.0" style="font-size:27.0px" textLength="37.8" lengthAdjust="spacingAndGlyphs">）</tspan></text></g>
</svg></body></html>
